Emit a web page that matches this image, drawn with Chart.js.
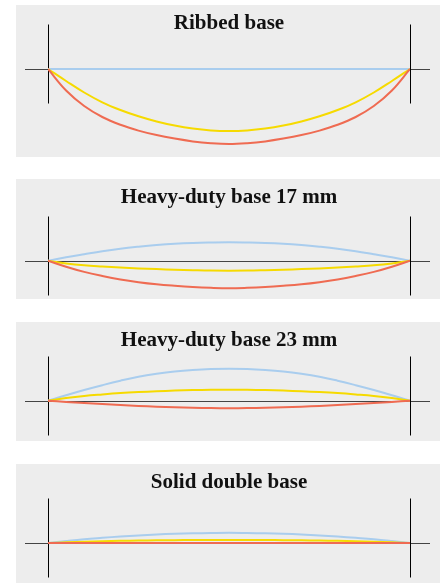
<!DOCTYPE html>
<html>
<head>
<meta charset="utf-8">
<script src="https://cdn.jsdelivr.net/npm/chart.js@4/dist/chart.umd.min.js"></script>
<style>
  html, body { margin: 0; padding: 0; background: #fff; }
  body { width: 443px; height: 584px; position: relative; overflow: hidden; }
  .panel { position: absolute; left: 16px; width: 424px; background: #ededed; }
</style>
</head>
<body>
<div class="panel" id="p0"><canvas id="c0"></canvas></div>
<div class="panel" id="p1"><canvas id="c1"></canvas></div>
<div class="panel" id="p2"><canvas id="c2"></canvas></div>
<div class="panel" id="p3"><canvas id="c3"></canvas></div>
<script>
// position along the span between the two supports, in % of span
const positions = [0, 5, 10, 15, 20, 25, 30, 35, 40, 45, 50, 55, 60, 65, 70, 75, 80, 85, 90, 95, 100];

const titles = ['Ribbed base', 'Heavy-duty base 17 mm', 'Heavy-duty base 23 mm', 'Solid double base'];

// deflection of each base (up = positive)
const ribbedBlue   = [0, 0, 0, 0, 0, 0, 0, 0, 0, 0, 0, 0, 0, 0, 0, 0, 0, 0, 0, 0, 0];
const ribbedYellow = [0, -12, -23.5, -33.3, -41, -47.3, -52.5, -56.6, -59.6, -61.4, -62, -61.4, -59.6, -56.6, -52.5, -47.3, -41, -33.3, -23.5, -12, 0];
const ribbedRed    = [0, -21.5, -37, -48, -55.8, -61.6, -66.1, -69.6, -72.4, -74.2, -75, -74.2, -72.4, -69.6, -66.1, -61.6, -55.8, -48, -37, -21.5, 0];

const hd17Blue   = [0, 3.4, 6.5, 9.5, 12, 14, 15.7, 17, 17.8, 18.2, 18.4, 18.2, 17.8, 17, 15.7, 14, 12, 9.5, 6.5, 3.4, 0];
const hd17Yellow = [0, -2.7, -4.6, -5.8, -6.8, -7.7, -8.4, -9, -9.5, -9.9, -10, -9.9, -9.5, -9, -8.4, -7.7, -6.8, -5.8, -4.6, -2.7, 0];
const hd17Red    = [0, -6, -11.2, -15.3, -18.8, -21.5, -23.6, -25.1, -26.3, -27.1, -27.5, -27.1, -26.3, -25.1, -23.6, -21.5, -18.8, -15.3, -11.2, -6, 0];

const hd23Blue   = [0, 5.5, 10.7, 15.5, 20, 24, 27, 29.3, 30.8, 31.7, 32, 31.7, 30.8, 29.3, 27, 24, 20, 15.5, 10.7, 5.5, 0];
const hd23Yellow = [0, 2.7, 4.8, 6.3, 7.6, 8.6, 9.4, 10.1, 10.6, 10.9, 11, 10.9, 10.6, 10.1, 9.4, 8.6, 7.6, 6.3, 4.8, 2.7, 0];
const hd23Red    = [0, -1.2, -2.3, -3.3, -4.3, -5.2, -6, -6.6, -7.1, -7.4, -7.5, -7.4, -7.1, -6.6, -6, -5.2, -4.3, -3.3, -2.3, -1.2, 0];

const solidBlue   = [0, 2, 3.8, 5.2, 6.5, 7.6, 8.5, 9.2, 9.7, 10, 10.2, 10, 9.7, 9.2, 8.5, 7.6, 6.5, 5.2, 3.8, 2, 0];
const solidYellow = [0, 0.7, 1.3, 1.8, 2.2, 2.5, 2.7, 2.85, 2.95, 3, 3, 3, 2.95, 2.85, 2.7, 2.5, 2.2, 1.8, 1.3, 0.7, 0];
const solidRed    = [0, 0, 0, 0, 0, 0, 0, 0, 0, 0, 0, 0, 0, 0, 0, 0, 0, 0, 0, 0, 0];

const seriesByPanel = [
  [ribbedBlue, ribbedYellow, ribbedRed],
  [hd17Blue, hd17Yellow, hd17Red],
  [hd23Blue, hd23Yellow, hd23Red],
  [solidBlue, solidYellow, solidRed]
];
const lineColors = ['#a9cdee', '#f6da00', '#ef6b52'];

// panel placement (px) and value range of each panel's y axis
const panelTop = [5, 179, 322, 464];
const panelHeight = [152, 120, 119, 119];
const yRange = [[-81, 28.8], [-31.3, 46.5], [-33.3, 43.5], [-33, 43.8]];

// baseline plus the two supports
const supportLines = {
  id: 'supportLines',
  beforeDatasetsDraw(chart) {
    const { ctx, chartArea, scales } = chart;
    const y0 = Math.round(scales.y.getPixelForValue(0)) + 0.5;
    const xl = Math.round(scales.x.getPixelForValue(0)) + 0.5;
    const xr = Math.round(scales.x.getPixelForValue(100)) + 0.5;
    ctx.save();
    ctx.lineWidth = 1;
    ctx.strokeStyle = '#444';
    ctx.beginPath();
    ctx.moveTo(chartArea.left - 23, y0);
    ctx.lineTo(chartArea.right + 20, y0);
    ctx.stroke();
    ctx.strokeStyle = '#000';
    [xl, xr].forEach(px => {
      ctx.beginPath();
      ctx.moveTo(px, y0 - 45);
      ctx.lineTo(px, y0 + 34);
      ctx.stroke();
    });
    ctx.restore();
  }
};

titles.forEach((title, i) => {
  const panel = document.getElementById('p' + i);
  panel.style.top = panelTop[i] + 'px';
  panel.style.height = panelHeight[i] + 'px';

  const datasets = seriesByPanel[i].map((vals, k) => ({
    data: positions.map((x, j) => ({ x, y: vals[j] })),
    borderColor: lineColors[k],
    borderWidth: 2,
    pointRadius: 0,
    fill: false,
    tension: 0.4,
    order: 2 - k
  }));

  new Chart(document.getElementById('c' + i), {
    type: 'line',
    data: { datasets },
    options: {
      responsive: true,
      maintainAspectRatio: false,
      devicePixelRatio: 1,
      animation: false,
      layout: { padding: { left: 32, right: 30, top: 0, bottom: 7 } },
      scales: {
        x: { type: 'linear', min: 0, max: 100, display: false },
        y: { min: yRange[i][0], max: yRange[i][1], display: false }
      },
      plugins: {
        legend: { display: false },
        tooltip: { enabled: false },
        title: {
          display: true,
          text: title,
          color: '#111',
          font: { family: '"Liberation Serif", serif', size: 21, weight: 'bold' },
          padding: { top: 6, bottom: 4 }
        }
      }
    },
    plugins: [supportLines]
  });
});
</script>
</body>
</html>
